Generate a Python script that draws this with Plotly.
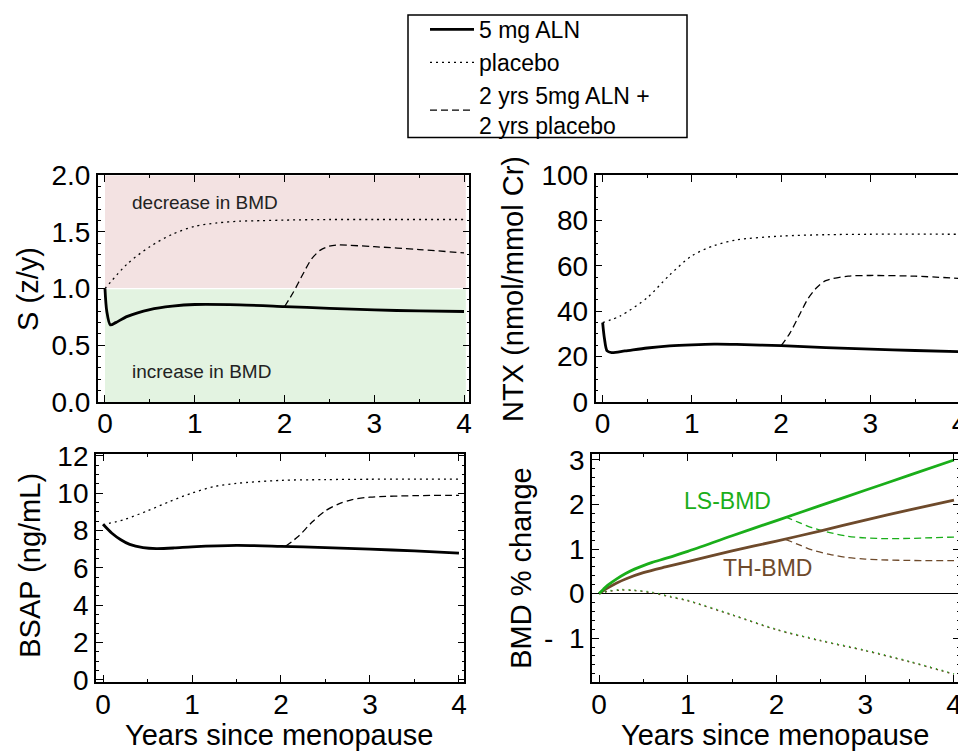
import plotly.graph_objects as go

# ---------------- data ----------------
# Panel A: S (z/y)
s_aln_x = [0, 0.02, 0.06, 0.12, 0.25, 0.5, 0.75, 1.0, 1.5, 2.0, 2.5, 3.0, 3.5, 4.0]
s_aln_y = [1.0, 0.80, 0.68, 0.70, 0.755, 0.815, 0.845, 0.860, 0.857, 0.842, 0.826, 0.812, 0.803, 0.798]
s_pla_x = [0, 0.25, 0.5, 0.75, 1.0, 1.25, 1.5, 1.75, 2.0, 2.5, 3.0, 4.0]
s_pla_y = [1.0, 1.22, 1.37, 1.48, 1.55, 1.58, 1.595, 1.60, 1.605, 1.61, 1.61, 1.61]
s_sw_x = [2.0, 2.1, 2.2, 2.3, 2.4, 2.5, 2.6, 3.0, 3.5, 4.0]
s_sw_y = [0.84, 0.97, 1.12, 1.26, 1.34, 1.375, 1.385, 1.37, 1.345, 1.315]

# Panel B: NTX
n_aln_x = [0, 0.02, 0.05, 0.1, 0.25, 0.5, 0.75, 1.0, 1.25, 1.5, 2.0, 2.5, 3.0, 3.5, 4.0]
n_aln_y = [35, 28, 22.5, 21.8, 22.5, 23.8, 24.7, 25.2, 25.5, 25.4, 24.8, 24.0, 23.3, 22.7, 22.2]
n_pla_x = [0, 0.2, 0.5, 0.75, 1.0, 1.25, 1.5, 2.0, 2.5, 3.0, 4.0]
n_pla_y = [35, 38, 46, 56, 64.5, 69, 71.5, 73.2, 73.8, 74, 74]
n_sw_x = [2.0, 2.1, 2.2, 2.3, 2.4, 2.5, 2.75, 3.0, 3.5, 4.0]
n_sw_y = [24.8, 30.5, 38, 45.5, 50.5, 53.5, 55.5, 55.8, 55.5, 54.5]

# Panel C: BSAP
b_aln_x = [0, 0.1, 0.2, 0.3, 0.45, 0.6, 0.8, 1.0, 1.5, 2.0, 2.5, 3.0, 3.5, 4.0]
b_aln_y = [8.33, 7.85, 7.5, 7.25, 7.08, 7.03, 7.06, 7.12, 7.2, 7.15, 7.08, 7.0, 6.9, 6.78]
b_pla_x = [0, 0.25, 0.5, 0.75, 1.0, 1.25, 1.5, 2.0, 2.5, 3.0, 4.0]
b_pla_y = [8.3, 8.6, 9.05, 9.55, 10.0, 10.35, 10.52, 10.68, 10.72, 10.74, 10.75]
b_sw_x = [2.05, 2.2, 2.35, 2.5, 2.65, 2.8, 3.0, 3.5, 4.0]
b_sw_y = [7.15, 7.7, 8.45, 9.05, 9.42, 9.65, 9.78, 9.86, 9.88]

# Panel D: BMD % change
ls_aln_x = [0, 0.05, 0.1, 0.2, 0.3, 0.4, 0.5, 0.6, 0.75, 1.0, 1.5, 2.0, 2.5, 3.0, 3.5, 4.0]
ls_aln_y = [0, 0.1, 0.19, 0.33, 0.45, 0.55, 0.63, 0.7, 0.79, 0.95, 1.3, 1.64, 1.98, 2.32, 2.66, 3.0]
th_aln_x = [0, 0.05, 0.1, 0.2, 0.3, 0.5, 0.75, 1.0, 1.5, 2.0, 2.5, 3.0, 3.5, 4.0]
th_aln_y = [0, 0.07, 0.13, 0.24, 0.33, 0.47, 0.6, 0.72, 0.96, 1.18, 1.41, 1.65, 1.88, 2.1]
ls_sw_x = [2.1, 2.25, 2.4, 2.6, 2.8, 3.0, 3.25, 3.5, 3.75, 4.0]
ls_sw_y = [1.72, 1.6, 1.48, 1.37, 1.29, 1.25, 1.235, 1.24, 1.255, 1.27]
th_sw_x = [2.1, 2.25, 2.4, 2.6, 2.8, 3.0, 3.25, 3.5, 3.75, 4.0]
th_sw_y = [1.22, 1.1, 0.98, 0.88, 0.81, 0.775, 0.755, 0.745, 0.742, 0.742]
pla_x = [0, 0.1, 0.25, 0.4, 0.6, 0.8, 1.0, 1.5, 2.0, 2.5, 3.0, 3.5, 4.0]
ls_pla_y = [0, 0.06, 0.09, 0.08, 0.03, -0.06, -0.15, -0.47, -0.8, -1.05, -1.27, -1.52, -1.8]
th_pla_y = [0, 0.05, 0.08, 0.07, 0.02, -0.07, -0.16, -0.48, -0.81, -1.06, -1.28, -1.53, -1.81]

legend_names = ["5 mg ALN", "placebo", "2 yrs 5mg ALN +<br>2 yrs placebo"]
x_title = "Years since menopause"
y_titles = ["S (z/y)", "NTX (nmol/mmol Cr)", "BSAP (ng/mL)", "BMD % change"]
bmd_ticks = [-1, 0, 1, 2, 3]
bmd_ticktext = ["-\u00a0\u00a01", "0", "1", "2", "3"]

# ---------------- style ----------------
FONT = "Liberation Sans, Arial, Helvetica, sans-serif"
BLACK = "#000000"
GREEN = "#1aae1a"
BROWN = "#6e4a2b"
DOT = "2px,4px"
DASH = "7px,4px"

fig = go.Figure()


def add(x, y, xa, ya, color, width, dash, name=None, show=False, rank=None):
    kw = {}
    if rank is not None:
        kw["legendrank"] = rank
    fig.add_trace(go.Scatter(
        x=x, y=y, xaxis=xa, yaxis=ya, mode="lines",
        line=dict(color=color, width=width, dash=dash, shape="spline", smoothing=0.8),
        name=name, showlegend=show, hoverinfo="skip", **kw))


# Panel A
add(s_pla_x, s_pla_y, "x", "y", BLACK, 1.3, DOT, legend_names[1], True, 2)
add(s_sw_x, s_sw_y, "x", "y", BLACK, 1.3, DASH, legend_names[2], True, 3)
add(s_aln_x, s_aln_y, "x", "y", BLACK, 2.8, "solid", legend_names[0], True, 1)
# Panel B
add(n_pla_x, n_pla_y, "x2", "y2", BLACK, 1.3, DOT)
add(n_sw_x, n_sw_y, "x2", "y2", BLACK, 1.3, DASH)
add(n_aln_x, n_aln_y, "x2", "y2", BLACK, 2.8, "solid")
# Panel C
add(b_pla_x, b_pla_y, "x3", "y3", BLACK, 1.3, DOT)
add(b_sw_x, b_sw_y, "x3", "y3", BLACK, 1.3, DASH)
add(b_aln_x, b_aln_y, "x3", "y3", BLACK, 2.8, "solid")
# Panel D
add(pla_x, th_pla_y, "x4", "y4", BROWN, 1.5, DOT)
add(pla_x, ls_pla_y, "x4", "y4", GREEN, 1.5, "1px,5px")
add(ls_sw_x, ls_sw_y, "x4", "y4", GREEN, 1.3, DASH)
add(th_sw_x, th_sw_y, "x4", "y4", BROWN, 1.3, DASH)
add(th_aln_x, th_aln_y, "x4", "y4", BROWN, 2.8, "solid")
add(ls_aln_x, ls_aln_y, "x4", "y4", GREEN, 2.8, "solid")

# the page body has an 8px margin, so the figure is drawn 8px in from the window corner
OFF = 8
W, H = 966 - OFF, 752 - OFF


def px(v):
    return (v - OFF) / W


def py(v):
    return 1 - (v - OFF) / H


def xd(l, r):
    return [px(l), px(r)]


def yd(top, bottom):
    return [py(bottom), py(top)]


def axis(domain, rng, dtick, minor, **kw):
    d = dict(domain=domain, range=rng, dtick=dtick, tick0=0, ticks="inside", ticklen=7,
             tickwidth=1, tickcolor=BLACK, showline=True, linecolor=BLACK, linewidth=1.6,
             mirror="ticks", showgrid=False, zeroline=False, automargin=False,
             ticklabeloverflow="allow",
             tickfont=dict(family=FONT, size=28, color=BLACK),
             minor=dict(dtick=minor, ticks="inside", ticklen=3, tickwidth=1, tickcolor=BLACK, showgrid=False))
    d.update(kw)
    return d


XR = [-0.08, 4.06]
XSTAND = -4
fig.update_layout(
    width=W, height=H,
    margin=dict(l=0, r=0, t=0, b=0),
    paper_bgcolor="white", plot_bgcolor="white",
    font=dict(family=FONT, color=BLACK),
    xaxis=axis(xd(97.8, 469.4), XR, 1, 0.5, anchor="y", ticklabelstandoff=XSTAND),
    yaxis=axis(yd(173, 400.5), [0, 2.0], 0.5, 0.1, anchor="x", tickformat=".1f"),
    xaxis2=axis(xd(595.5, 965), XR, 1, 0.5, anchor="y2", ticklabelstandoff=XSTAND),
    yaxis2=axis(yd(173, 400.5), [0, 100], 20, 5, anchor="x2"),
    xaxis3=axis(xd(95.9, 464.3), XR, 1, 0.5, anchor="y3", ticklabelstandoff=XSTAND),
    yaxis3=axis(yd(453, 682), [-0.13, 12.08], 2, 0.5, anchor="x3"),
    xaxis4=axis(xd(591.9, 959.3), XR, 1, 0.5, anchor="y4", ticklabelstandoff=XSTAND),
    yaxis4=axis(yd(453, 682), [-1.99, 3.13], 1, 0.2, anchor="x4",
                tickmode="array", tickvals=bmd_ticks, ticktext=bmd_ticktext,
                zeroline=True, zerolinecolor=BLACK, zerolinewidth=1),
    legend=dict(x=px(425), xanchor="left", y=py(5), yanchor="top",
                borderwidth=0, bgcolor="rgba(0,0,0,0)",
                font=dict(family=FONT, size=23, color=BLACK),
                itemwidth=44),
)

# legend frame
fig.add_shape(type="rect", xref="paper", yref="paper", x0=px(408), x1=px(687),
              y0=py(135), y1=py(12), line=dict(color=BLACK, width=1.5), fillcolor="rgba(0,0,0,0)")

# shaded regions in panel A
fig.add_shape(type="rect", xref="x", yref="y", x0=0, x1=4.02, y0=1.005, y1=2,
              fillcolor="#f3e2e2", line=dict(width=0), layer="below")
fig.add_shape(type="rect", xref="x", yref="y", x0=0, x1=4.02, y0=0, y1=0.995,
              fillcolor="#e3f3e1", line=dict(width=0), layer="below")

ann = []
ann.append(dict(x=0.28, y=1.76, xref="x", yref="y", text="decrease in BMD", showarrow=False,
                xanchor="left", font=dict(family=FONT, size=19, color="#222222")))
ann.append(dict(x=0.28, y=0.27, xref="x", yref="y", text="increase in BMD", showarrow=False,
                xanchor="left", font=dict(family=FONT, size=19, color="#222222")))
ann.append(dict(x=1.45, y=2.08, xref="x4", yref="y4", text="LS-BMD", showarrow=False,
                font=dict(family=FONT, size=23, color=GREEN)))
ann.append(dict(x=1.9, y=0.57, xref="x4", yref="y4", text="TH-BMD", showarrow=False,
                font=dict(family=FONT, size=23, color=BROWN)))
# axis titles
for xc, yc, t in [(28, 287, y_titles[0]), (513, 287, y_titles[1]),
                  (30, 565, y_titles[2]), (521, 567, y_titles[3])]:
    ann.append(dict(x=px(xc), y=py(yc), xref="paper", yref="paper", text=t, textangle=-90,
                    showarrow=False, xanchor="center", yanchor="middle",
                    font=dict(family=FONT, size=29, color=BLACK)))
for xc in [279, 775]:
    ann.append(dict(x=px(xc), y=py(735), xref="paper", yref="paper", text=x_title,
                    showarrow=False, xanchor="center", yanchor="middle",
                    font=dict(family=FONT, size=29, color=BLACK)))
fig.update_layout(annotations=ann)

fig.write_html("out.html")
